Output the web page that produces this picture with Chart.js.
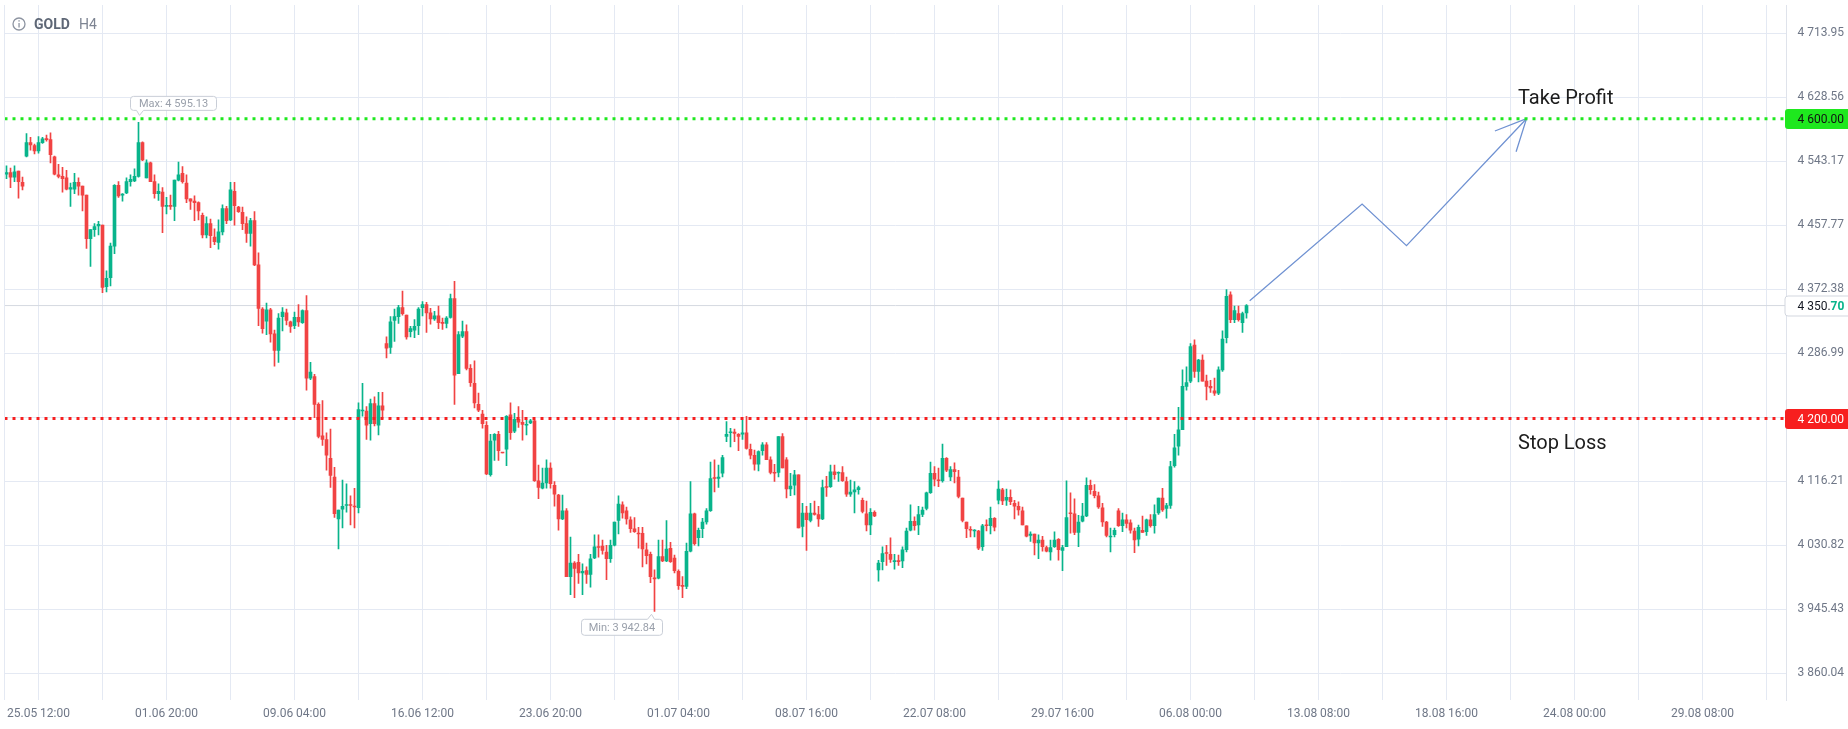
<!DOCTYPE html>
<html>
<head>
<meta charset="utf-8">
<title>GOLD H4</title>
<script src="https://cdn.jsdelivr.net/npm/chart.js@4.4.1/dist/chart.umd.min.js"></script>
<style>
  html, body { margin: 0; padding: 0; background: #fff; overflow: hidden; }
  #wrap { width: 1848px; height: 729px; }
</style>
</head>
<body>
<div id="wrap"><canvas id="chart" width="1848" height="729"></canvas></div>
<script>
// GOLD H4 candles (one row = 10 candles)
const opens = [
  4526, 4528, 4522, 4530, 4515, 4550, 4568, 4564, 4557, 4568,
  4573, 4572, 4549, 4525, 4523, 4521, 4506, 4506, 4515, 4510,
  4498, 4440, 4452, 4457, 4458, 4376, 4388, 4430, 4511, 4498,
  4501, 4516, 4517, 4523, 4568, 4521, 4541, 4516, 4500, 4502,
  4483, 4484, 4483, 4518, 4527, 4514, 4493, 4490, 4488, 4471,
  4445, 4460, 4442, 4435, 4449, 4480, 4465, 4503, 4482, 4475,
  4460, 4447, 4464, 4405, 4346, 4330, 4345, 4313, 4291, 4336,
  4341, 4329, 4324, 4335, 4328, 4344, 4254, 4256, 4219, 4177,
  4172, 4147, 4122, 4066, 4079, 4084, 4085, 4083, 4081, 4210,
  4210, 4193, 4220, 4191, 4217, 4300, 4295, 4331, 4336, 4348,
  4338, 4316, 4318, 4324, 4348, 4352, 4341, 4333, 4337, 4328,
  4327, 4335, 4360, 4260, 4310, 4316, 4267, 4247, 4219, 4206,
  4191, 4125, 4171, 4179, 4155, 4159, 4205, 4183, 4199, 4195,
  4191, 4194, 4197, 4117, 4107, 4114, 4134, 4111, 4098, 4066,
  4077, 3989, 4007, 4008, 3994, 3997, 3992, 4014, 4029, 4030,
  4022, 4013, 4031, 4064, 4085, 4077, 4065, 4053, 4047, 4047,
  4025, 4019, 3987, 3987, 4016, 4010, 4027, 4014, 3996, 3977,
  3976, 4023, 4073, 4041, 4053, 4062, 4077, 4121, 4120, 4127,
  4176, 4181, 4182, 4179, 4179, 4181, 4159, 4151, 4139, 4157,
  4165, 4145, 4128, 4128, 4176, 4145, 4106, 4111, 4125, 4056,
  4074, 4064, 4074, 4072, 4066, 4109, 4109, 4129, 4127, 4128,
  4116, 4099, 4102, 4105, 4091, 4073, 4058, 4075, 3998, 4009,
  4021, 4019, 4009, 4010, 4010, 4025, 4051, 4063, 4058, 4072,
  4080, 4101, 4127, 4118, 4117, 4147, 4122, 4132, 4122, 4094,
  4062, 4052, 4050, 4050, 4029, 4058, 4057, 4067, 4091, 4105,
  4091, 4095, 4087, 4083, 4077, 4057, 4044, 4046, 4034, 4038,
  4028, 4022, 4029, 4039, 4024, 4029, 4074, 4073, 4048, 4063,
  4070, 4111, 4103, 4097, 4081, 4062, 4042, 4045, 4077, 4057,
  4065, 4061, 4050, 4039, 4051, 4049, 4065, 4057, 4074, 4094,
  4080, 4084, 4137, 4163, 4185, 4243, 4250, 4298, 4263, 4278,
  4250, 4243, 4237, 4234, 4265, 4308, 4365, 4332, 4340, 4328, 4341
];
const highs = [
  4537, 4534, 4537, 4530, 4522, 4580, 4575, 4566, 4576, 4575,
  4578, 4581, 4550, 4539, 4535, 4531, 4514, 4527, 4521, 4510,
  4498, 4452, 4460, 4463, 4458, 4397, 4434, 4512, 4516, 4500,
  4521, 4525, 4533, 4595.13, 4569, 4545, 4542, 4525, 4513, 4508,
  4495, 4498, 4518, 4542, 4536, 4525, 4493, 4497, 4489, 4474,
  4469, 4466, 4453, 4465, 4485, 4483, 4515, 4515, 4483, 4482,
  4469, 4467, 4476, 4421, 4348, 4354, 4347, 4318, 4340, 4348,
  4346, 4330, 4342, 4352, 4345, 4364, 4275, 4259, 4221, 4224,
  4181, 4186, 4135, 4078, 4118, 4113, 4097, 4107, 4221, 4247,
  4216, 4226, 4229, 4235, 4235, 4309, 4336, 4346, 4351, 4370,
  4338, 4323, 4332, 4348, 4356, 4355, 4347, 4343, 4350, 4334,
  4336, 4366, 4383, 4316, 4330, 4325, 4272, 4277, 4234, 4211,
  4196, 4179, 4180, 4183, 4155, 4204, 4221, 4207, 4216, 4211,
  4198, 4199, 4198, 4138, 4134, 4145, 4141, 4116, 4099, 4098,
  4080, 4042, 4009, 4019, 4006, 4002, 4019, 4045, 4045, 4038,
  4031, 4038, 4062, 4097, 4089, 4082, 4069, 4068, 4055, 4055,
  4034, 4022, 3998, 4038, 4038, 4064, 4035, 4018, 3998, 3989,
  4034, 4116, 4074, 4054, 4067, 4080, 4142, 4145, 4138, 4151,
  4196, 4187, 4186, 4180, 4198, 4203, 4166, 4158, 4157, 4168,
  4168, 4149, 4139, 4176, 4180, 4148, 4127, 4131, 4125, 4087,
  4083, 4087, 4090, 4083, 4118, 4123, 4138, 4138, 4129, 4136,
  4122, 4118, 4116, 4110, 4094, 4090, 4080, 4077, 4011, 4029,
  4031, 4041, 4019, 4018, 4029, 4054, 4085, 4069, 4083, 4082,
  4102, 4142, 4136, 4134, 4166, 4148, 4136, 4141, 4131, 4094,
  4062, 4056, 4052, 4051, 4059, 4065, 4082, 4068, 4117, 4107,
  4106, 4105, 4091, 4089, 4082, 4057, 4049, 4046, 4045, 4043,
  4030, 4038, 4049, 4040, 4031, 4117, 4101, 4093, 4071, 4087,
  4121, 4118, 4112, 4102, 4087, 4063, 4054, 4054, 4080, 4074,
  4072, 4065, 4054, 4058, 4070, 4066, 4072, 4085, 4094, 4107,
  4087, 4143, 4179, 4215, 4265, 4269, 4300, 4305, 4279, 4285,
  4258, 4251, 4254, 4269, 4317, 4372, 4369, 4350, 4350, 4342, 4352
];
const lows = [
  4520, 4508, 4516, 4494, 4505, 4549, 4558, 4553, 4554, 4567,
  4570, 4541, 4525, 4521, 4502, 4505, 4483, 4500, 4498, 4477,
  4427, 4403, 4443, 4445, 4368, 4369, 4377, 4420, 4495, 4490,
  4500, 4510, 4516, 4522, 4544, 4521, 4516, 4494, 4491, 4448,
  4473, 4479, 4464, 4517, 4514, 4488, 4479, 4464, 4465, 4441,
  4441, 4428, 4432, 4426, 4445, 4460, 4464, 4458, 4475, 4452,
  4435, 4430, 4404, 4324, 4314, 4312, 4302, 4270, 4275, 4317,
  4325, 4315, 4320, 4323, 4327, 4238, 4252, 4201, 4174, 4164,
  4131, 4108, 4068, 4026, 4054, 4075, 4058, 4054, 4074, 4203,
  4172, 4171, 4190, 4178, 4200, 4281, 4287, 4303, 4327, 4338,
  4306, 4309, 4308, 4312, 4337, 4315, 4326, 4331, 4320, 4319,
  4321, 4334, 4219, 4260, 4308, 4265, 4243, 4214, 4209, 4187,
  4125, 4123, 4144, 4144, 4154, 4137, 4172, 4181, 4188, 4171,
  4178, 4193, 4116, 4093, 4106, 4107, 4107, 4083, 4051, 4065,
  3989, 3965, 3961, 3980, 3965, 3980, 3975, 4013, 4015, 4019,
  3985, 4008, 4030, 4046, 4067, 4059, 4048, 4048, 4027, 4002,
  4006, 3981, 3942.84, 3986, 4009, 4009, 4008, 3994, 3972, 3961,
  3973, 4022, 4031, 4030, 4041, 4059, 4076, 4102, 4108, 4122,
  4169, 4162, 4169, 4157, 4172, 4159, 4146, 4131, 4130, 4151,
  4145, 4126, 4116, 4122, 4134, 4094, 4097, 4098, 4054, 4042,
  4024, 4062, 4071, 4056, 4065, 4096, 4108, 4119, 4116, 4116,
  4096, 4096, 4074, 4099, 4074, 4050, 4045, 4069, 3983, 3998,
  4004, 4008, 3999, 4004, 4001, 4022, 4050, 4051, 4045, 4069,
  4078, 4100, 4110, 4109, 4115, 4129, 4117, 4114, 4094, 4062,
  4041, 4042, 4042, 4025, 4024, 4050, 4046, 4050, 4086, 4085,
  4084, 4085, 4066, 4071, 4058, 4042, 4036, 4018, 4013, 4023,
  4022, 4011, 4028, 4011, 3997, 4029, 4047, 4045, 4029, 4062,
  4069, 4099, 4094, 4080, 4056, 4042, 4022, 4042, 4056, 4049,
  4054, 4047, 4021, 4030, 4048, 4044, 4055, 4047, 4072, 4076,
  4067, 4080, 4135, 4151, 4185, 4238, 4248, 4255, 4249, 4250,
  4225, 4235, 4231, 4232, 4263, 4301, 4328, 4328, 4330, 4315, 4334
];
const closes = [
  4528, 4522, 4529, 4516, 4510, 4568, 4565, 4557, 4568, 4573,
  4572, 4552, 4526, 4523, 4520, 4506, 4508, 4515, 4510, 4498,
  4440, 4452, 4456, 4459, 4375, 4387, 4430, 4511, 4497, 4499,
  4516, 4519, 4523, 4568, 4545, 4541, 4516, 4500, 4503, 4483,
  4484, 4483, 4518, 4525, 4516, 4493, 4490, 4488, 4477, 4445,
  4460, 4444, 4436, 4449, 4480, 4464, 4505, 4484, 4476, 4460,
  4447, 4464, 4405, 4347, 4320, 4345, 4313, 4291, 4334, 4342,
  4331, 4323, 4335, 4329, 4344, 4254, 4262, 4219, 4176, 4172,
  4151, 4124, 4073, 4078, 4083, 4085, 4084, 4082, 4212, 4211,
  4191, 4220, 4193, 4217, 4211, 4294, 4329, 4336, 4348, 4340,
  4309, 4320, 4323, 4346, 4352, 4341, 4333, 4337, 4328, 4327,
  4334, 4360, 4258, 4312, 4316, 4267, 4248, 4221, 4211, 4193,
  4126, 4170, 4179, 4157, 4154, 4203, 4181, 4199, 4195, 4192,
  4192, 4197, 4117, 4108, 4114, 4134, 4113, 4099, 4066, 4077,
  3989, 4007, 4000, 3994, 3996, 3992, 4013, 4029, 4028, 4024,
  4013, 4031, 4062, 4086, 4074, 4066, 4053, 4049, 4046, 4026,
  4017, 3989, 3986, 4016, 4010, 4026, 4009, 3997, 3977, 3976,
  4023, 4073, 4033, 4051, 4062, 4077, 4120, 4120, 4122, 4148,
  4179, 4182, 4180, 4176, 4181, 4160, 4151, 4139, 4156, 4165,
  4145, 4128, 4127, 4176, 4134, 4106, 4110, 4125, 4054, 4074,
  4065, 4074, 4072, 4066, 4108, 4108, 4129, 4125, 4128, 4117,
  4099, 4102, 4105, 4108, 4076, 4058, 4075, 4070, 4007, 4020,
  4020, 4012, 4010, 4009, 4025, 4050, 4063, 4057, 4072, 4078,
  4101, 4127, 4119, 4117, 4147, 4131, 4132, 4129, 4096, 4064,
  4053, 4051, 4051, 4027, 4057, 4057, 4067, 4055, 4106, 4090,
  4095, 4089, 4083, 4078, 4058, 4043, 4046, 4034, 4038, 4029,
  4023, 4028, 4038, 4025, 4028, 4068, 4073, 4048, 4062, 4070,
  4111, 4105, 4097, 4082, 4062, 4044, 4043, 4051, 4057, 4065,
  4060, 4051, 4038, 4055, 4048, 4065, 4057, 4072, 4094, 4078,
  4084, 4136, 4161, 4185, 4243, 4248, 4296, 4263, 4278, 4250,
  4243, 4241, 4234, 4265, 4306, 4363, 4332, 4344, 4332, 4340, 4350.70
];

// time axis: a label every 32 candles, starting at candle 8
const xTickLabels = ['25.05 12:00', '01.06 20:00', '09.06 04:00', '16.06 12:00', '23.06 20:00',
  '01.07 04:00', '08.07 16:00', '22.07 08:00', '29.07 16:00', '06.08 00:00',
  '13.08 08:00', '18.08 16:00', '24.08 00:00', '29.08 08:00'];
const yTickValues = [3860.04, 3945.43, 4030.82, 4116.21, 4201.60, 4286.99,
  4372.38, 4457.77, 4543.17, 4628.56, 4713.95];

const takeProfit = 4600;
const stopLoss = 4200;
const lastPrice = 4350.70;

// hand drawn forecast path (candle index, price)
const pathX = [310.8, 338.9, 350, 380];
const pathY = [4357.2, 4486.2, 4430.6, 4600];
const headX = [372.1, 380, 377.4];
const headY = [4583.6, 4600, 4556.0];

const UP = '#08b48b';
const DOWN = '#f14343';
const GRID = '#e4e9f3';
const LABEL = '#6f7787';
const X_MAX = 445;

Chart.defaults.font.family = "Roboto, 'Noto Sans', sans-serif";

function fmt(v) {
  return v.toFixed(2).replace(/^(\d)(\d{3})/, '$1 $2');
}

function roundBox(ctx, left, top, w, h, r) {
  ctx.beginPath();
  ctx.moveTo(left + r, top);
  ctx.lineTo(left + w, top);
  ctx.lineTo(left + w, top + h);
  ctx.lineTo(left + r, top + h);
  ctx.arcTo(left, top + h, left, top + h - r, r);
  ctx.lineTo(left, top + r);
  ctx.arcTo(left, top, left + r, top, r);
  ctx.closePath();
}

function callout(ctx, text, left, top, w, h, px, dir) {
  const r = 3, right = left + w, bottom = top + h;
  ctx.beginPath();
  ctx.moveTo(left + r, top);
  if (dir === 'up') { ctx.lineTo(px - 4, top); ctx.lineTo(px, top - 5); ctx.lineTo(px + 3, top); }
  ctx.lineTo(right - r, top);
  ctx.arcTo(right, top, right, top + r, r);
  ctx.lineTo(right, bottom - r);
  ctx.arcTo(right, bottom, right - r, bottom, r);
  if (dir === 'down') { ctx.lineTo(px + 4, bottom); ctx.lineTo(px, bottom + 5); ctx.lineTo(px - 3, bottom); }
  ctx.lineTo(left + r, bottom);
  ctx.arcTo(left, bottom, left, bottom - r, r);
  ctx.lineTo(left, top + r);
  ctx.arcTo(left, top, left + r, top, r);
  ctx.closePath();
  ctx.fillStyle = 'rgba(255,255,255,0.95)';
  ctx.fill();
  ctx.strokeStyle = '#c9ced7';
  ctx.lineWidth = 1;
  ctx.stroke();
  ctx.fillStyle = '#9aa0ab';
  ctx.font = "11px Roboto, sans-serif";
  ctx.textAlign = 'center';
  ctx.textBaseline = 'middle';
  ctx.fillText(text, left + w / 2, top + h / 2 + 0.5);
}

const overlay = {
  id: 'overlay',
  afterDraw(chart) {
    const { ctx, chartArea: a, scales: { x, y } } = chart;
    ctx.save();

    // left frame
    ctx.strokeStyle = GRID;
    ctx.lineWidth = 1;
    ctx.beginPath();
    ctx.moveTo(a.left, a.top);
    ctx.lineTo(a.left, a.bottom);
    ctx.stroke();

    // header
    ctx.strokeStyle = '#8d94a1';
    ctx.lineWidth = 1.3;
    ctx.beginPath();
    ctx.arc(19, 24, 6, 0, Math.PI * 2);
    ctx.stroke();
    ctx.fillStyle = '#8d94a1';
    ctx.fillRect(18.4, 23, 1.3, 4.5);
    ctx.fillRect(18.4, 20.2, 1.3, 1.4);
    ctx.textAlign = 'left';
    ctx.textBaseline = 'alphabetic';
    ctx.font = "bold 14px Roboto, sans-serif";
    ctx.fillStyle = '#5e6776';
    ctx.fillText('GOLD', 34, 29);
    ctx.font = "14px Roboto, sans-serif";
    ctx.fillStyle = '#7d8492';
    ctx.fillText('H4', 79, 29);

    // max / min callouts
    const hi = Math.max(...highs), lo = Math.min(...lows);
    const hiIdx = highs.indexOf(hi), loIdx = lows.indexOf(lo);
    const hx = x.getPixelForValue(hiIdx), hy = y.getPixelForValue(hi);
    callout(ctx, 'Max: ' + fmt(hi), hx - 8, hy - 26, 86, 14, hx + 1, 'down');
    const lx = x.getPixelForValue(loIdx), ly = y.getPixelForValue(lo);
    callout(ctx, 'Min: ' + fmt(lo), lx - 73, ly + 8, 81, 16, lx - 3, 'up');

    // level captions
    ctx.font = "20px Roboto, sans-serif";
    ctx.fillStyle = '#1c1c1c';
    ctx.textAlign = 'left';
    ctx.textBaseline = 'alphabetic';
    ctx.fillText('Take Profit', 1518, 104);
    ctx.fillText('Stop Loss', 1518, 449);

    // price tags on the axis
    const tagLeft = a.right - 1.5, tagW = chart.width - tagLeft + 4;
    const tag = (v, fill, stroke, color) => {
      const py = Math.round(y.getPixelForValue(v));
      roundBox(ctx, tagLeft, py - 10, tagW, 20, 3);
      ctx.fillStyle = fill;
      ctx.fill();
      if (stroke) { ctx.strokeStyle = stroke; ctx.lineWidth = 1; ctx.stroke(); }
      ctx.font = "12px Roboto, sans-serif";
      ctx.textBaseline = 'middle';
      ctx.textAlign = 'left';
      ctx.fillStyle = color;
      return py;
    };
    let py = tag(takeProfit, '#1ee81e', null, '#111');
    ctx.fillText(fmt(takeProfit), a.right + 11, py + 0.5);
    py = tag(stopLoss, '#f71f1f', null, '#fff');
    ctx.fillText(fmt(stopLoss), a.right + 11, py + 0.5);
    py = tag(lastPrice, '#fff', '#d3d7df', '#131722');
    const s = fmt(lastPrice);
    const head = s.slice(0, -2), tail = s.slice(-2);
    ctx.fillText(head, a.right + 11, py + 0.5);
    const w = ctx.measureText(head).width;
    ctx.font = "bold 12px Roboto, sans-serif";
    ctx.fillStyle = UP;
    ctx.fillText(tail, a.right + 11 + w, py + 0.5);

    ctx.restore();
  }
};

const idx = closes.map((_, i) => i);
const colors = closes.map((c, i) => (c >= opens[i] ? UP : DOWN));
const flat = v => [{ x: -0.5, y: v }, { x: X_MAX, y: v }];

new Chart(document.getElementById('chart'), {
  type: 'bar',
  data: {
    datasets: [
      {
        type: 'line', label: 'Take Profit', data: flat(takeProfit),
        borderColor: '#1ee81e', borderWidth: 3, borderDash: [3, 5],
        pointRadius: 0, order: 0
      },
      {
        type: 'line', label: 'Stop Loss', data: flat(stopLoss),
        borderColor: '#f71f1f', borderWidth: 3, borderDash: [3, 5],
        pointRadius: 0, order: 0
      },
      {
        type: 'line', label: 'Forecast', data: pathX.map((v, i) => ({ x: v, y: pathY[i] })),
        borderColor: '#7092d2', borderWidth: 1.3, pointRadius: 0, tension: 0, order: 0
      },
      {
        type: 'line', label: 'Arrow', data: headX.map((v, i) => ({ x: v, y: headY[i] })),
        borderColor: '#7092d2', borderWidth: 1.3, pointRadius: 0, tension: 0, order: 0
      },
      {
        type: 'line', label: 'Last', data: flat(lastPrice),
        borderColor: '#d5d9e1', borderWidth: 1, pointRadius: 0, order: 5
      },
      {
        label: 'Body',
        data: idx.map(i => ({ x: i, y: [Math.min(opens[i], closes[i]), Math.max(opens[i], closes[i])] })),
        backgroundColor: colors, barThickness: 3, minBarLength: 1, grouped: false, order: 1
      },
      {
        label: 'Wick',
        data: idx.map(i => ({ x: i, y: [lows[i], highs[i]] })),
        backgroundColor: colors, barThickness: 1, grouped: false, order: 2
      }
    ]
  },
  options: {
    responsive: false,
    animation: false,
    events: [],
    layout: { padding: { left: 4.5, top: 5, right: 0, bottom: 0 } },
    plugins: { legend: { display: false }, tooltip: { enabled: false } },
    scales: {
      x: {
        type: 'linear', min: -0.5, max: X_MAX, offset: false,
        grid: { color: GRID, drawTicks: false, offset: false },
        border: { display: false },
        ticks: {
          autoSkip: false, maxRotation: 0, padding: 7, color: LABEL, font: { size: 12 },
          callback: v => ((v - 8) % 32 === 0 ? xTickLabels[(v - 8) / 32] : '')
        },
        afterBuildTicks: s => {
          s.ticks = xTickLabels.flatMap((_, k) => [{ value: 8 + 32 * k }, { value: 24 + 32 * k }]);
        },
        afterFit: s => { s.height = 29; s.paddingLeft = 0; s.paddingRight = 0; }
      },
      y: {
        position: 'right', min: 3824.5, max: 4751.7,
        grid: { color: GRID, drawTicks: false },
        border: { display: true, color: '#dfe3eb' },
        ticks: { padding: 11, color: LABEL, font: { size: 12 }, callback: v => fmt(v) },
        afterBuildTicks: s => { s.ticks = yTickValues.map(v => ({ value: v })); },
        afterFit: s => { s.width = 61.5; s.paddingTop = 0; s.paddingBottom = 0; }
      }
    }
  },
  plugins: [overlay]
});
</script>
</body>
</html>
